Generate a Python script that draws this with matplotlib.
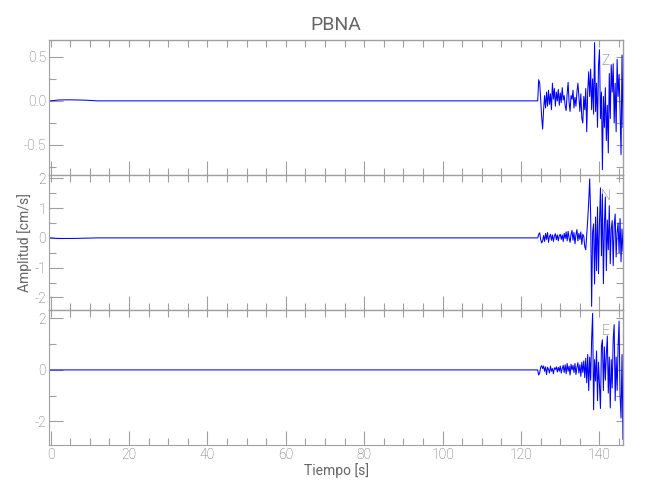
import numpy as np
import matplotlib
matplotlib.use("Agg")
import matplotlib.pyplot as plt
from matplotlib.ticker import MultipleLocator, FormatStrFormatter

plt.rcParams['font.family'] = ['Roboto', 'DejaVu Sans']
plt.rcParams['font.weight'] = 'light'
plt.rcParams['axes.unicode_minus'] = False

station = "PBNA"
components = ["Z", "N", "E"]

# quiet part before the arrival (time, amplitude)
pre_t = [0.0, 2.0, 5.0, 9.0, 12.0, 124.0]
pre_z = [0.0, 0.010, 0.012, 0.008, 0.0, 0.0]
pre_n = [0.0, -0.02, -0.02, -0.01, 0.0, 0.0]
pre_e = [0.0, 0.0, 0.0, 0.0, 0.0, 0.0]

# read every 0.25 s from 124.25 s to 146 s
t0 = 124.25
dt = 0.25
z_amp = [0.0, 0.24, 0.20, 0.02, -0.18, -0.32, -0.10, 0.06, -0.08, 0.10,
         -0.06, 0.12, -0.04, 0.08, -0.10, 0.20, 0.02, 0.14, -0.06, 0.10,
         0.00, 0.13, -0.05, 0.09, -0.02, 0.15, 0.01, 0.06, -0.06, -0.11,
         0.08, 0.21, -0.02, -0.12, 0.06, 0.02, 0.12, -0.08, 0.04, -0.06,
         0.10, 0.20, 0.05, -0.12, 0.08, -0.20, -0.25, 0.05, -0.10, 0.14,
         -0.35, 0.10, 0.33, 0.05, 0.36, -0.10, 0.25, -0.15, 0.66, -0.12,
         0.20, -0.30, 0.40, 0.58, -0.20, 0.10, -0.78, 0.05, -0.30, 0.15,
         -0.45, -0.05, -0.59, 0.31, -0.20, 0.41, 0.10, 0.42, -0.25, 0.20,
         -0.35, 0.47, 0.05, 0.30, -0.10, -0.61, 0.52, -0.30]
n_amp = [0.0, 0.12, 0.17, -0.05, -0.17, -0.10, 0.08, -0.12, 0.15, -0.05,
         0.18, -0.15, 0.05, 0.12, -0.08, 0.10, -0.12, 0.06, 0.14, -0.06,
         0.10, -0.10, 0.08, 0.12, -0.05, 0.10, -0.12, 0.15, -0.02, 0.20,
         -0.10, 0.22, 0.00, -0.15, 0.12, 0.25, -0.08, 0.18, -0.20, 0.10,
         0.28, -0.10, 0.15, -0.05, 0.20, -0.22, 0.12, 0.05, -0.30, -0.40,
         0.10, 0.60, 1.20, 1.98, 0.80, -2.30, 0.20, 0.47, -1.55, 0.70,
         -1.10, 1.04, -1.20, 0.50, 1.68, -0.60, 1.47, -1.54, 0.40, 1.37,
         -1.10, 0.60, -0.40, 1.08, -0.87, 0.30, 0.58, -0.93, 0.40, 0.80,
         -0.64, 0.20, 0.50, -0.50, 0.65, -0.80, 0.30, -0.45]
e_amp = [0.0, -0.20, -0.12, 0.10, 0.17, 0.05, 0.15, -0.05, 0.12, -0.18,
         0.10, 0.02, -0.12, 0.15, -0.05, 0.05, -0.15, 0.08, 0.02, 0.12,
         -0.08, 0.10, -0.05, 0.15, -0.12, 0.05, 0.18, -0.10, 0.20, -0.15,
         0.25, -0.05, 0.15, -0.20, 0.22, 0.00, 0.18, -0.10, 0.25, -0.18,
         0.10, 0.28, -0.12, 0.20, -0.25, 0.30, -0.10, 0.35, -0.30, 0.45,
         -0.50, 0.60, -0.80, 0.50, -0.40, 1.20, 2.20, -1.55, 0.40, -0.43,
         0.74, -1.20, 0.30, -0.60, -1.50, 0.93, 1.17, -0.80, 0.90, -0.40,
         0.60, 1.32, -0.90, 0.50, -1.48, 0.40, -0.70, 1.20, 1.76, -1.20,
         0.50, -0.80, 0.90, 1.90, -1.00, -1.87, 0.60, -2.70]

ylims = [(-0.84, 0.69), (-2.42, 2.11), (-2.92, 2.33)]
ymajor = [0.5, 1.0, 2.0]
yminor = [0.25, 0.5, 1.0]

grey = "#a0a0a0"
text_grey = "#666666"

fig = plt.figure(figsize=(6.5, 5), dpi=100)
left = 49 / 650
width = (623 - 49) / 650
height = 135 / 500
bottoms = [1 - 175 / 500, 1 - 310 / 500, 1 - 445 / 500]

series = [(pre_z, z_amp), (pre_n, n_amp), (pre_e, e_amp)]
axes = []
for i, (pre, amp) in enumerate(series):
    ax = fig.add_axes([left, bottoms[i], width, height])
    t = np.concatenate([pre_t, t0 + dt * np.arange(len(amp))])
    y = np.concatenate([pre, amp])
    ax.plot(t, y, color="#0000ff", lw=0.75)

    ax.set_xlim(-0.4, 146)
    ax.set_ylim(*ylims[i])
    ax.xaxis.set_major_locator(MultipleLocator(20))
    ax.xaxis.set_minor_locator(MultipleLocator(5))
    ax.yaxis.set_major_locator(MultipleLocator(ymajor[i]))
    ax.yaxis.set_minor_locator(MultipleLocator(yminor[i]))
    if i == 0:
        ax.yaxis.set_major_formatter(FormatStrFormatter('%.1f'))
    ax.tick_params(which="both", direction="in", color=grey,
                   labelsize=10, pad=2)
    ax.tick_params(which="both", labelcolor=text_grey)
    ax.tick_params(which="major", length=10, width=0.8)
    ax.tick_params(which="minor", length=5, width=0.8)
    for s in ax.spines.values():
        s.set_color(grey)
        s.set_linewidth(0.8)

    # short ticks on top and right edges
    top = ax.secondary_xaxis("top")
    top.xaxis.set_major_locator(MultipleLocator(5))
    top.tick_params(direction="in", length=5, width=0.8, colors=grey,
                    labeltop=False)
    right = ax.secondary_yaxis("right")
    right.yaxis.set_major_locator(MultipleLocator(yminor[i]))
    right.tick_params(direction="in", length=5, width=0.8, colors=grey,
                      labelright=False)

    if i < 2:
        ax.tick_params(labelbottom=False)

    ax.text(0.97, 0.845, components[i], transform=ax.transAxes,
            ha="center", va="center", fontsize=10, color="#555555",
            zorder=5)
    axes.append(ax)

axes[0].set_title(station, fontsize=14, color=text_grey, pad=7)
axes[1].set_ylabel("Amplitud [cm/s]", fontsize=10, color=text_grey)
axes[1].yaxis.set_label_coords(-0.03, 0.5)
axes[2].set_xlabel("Tiempo [s]", fontsize=10, color=text_grey, labelpad=1)

fig.savefig("out.png", dpi=100)
